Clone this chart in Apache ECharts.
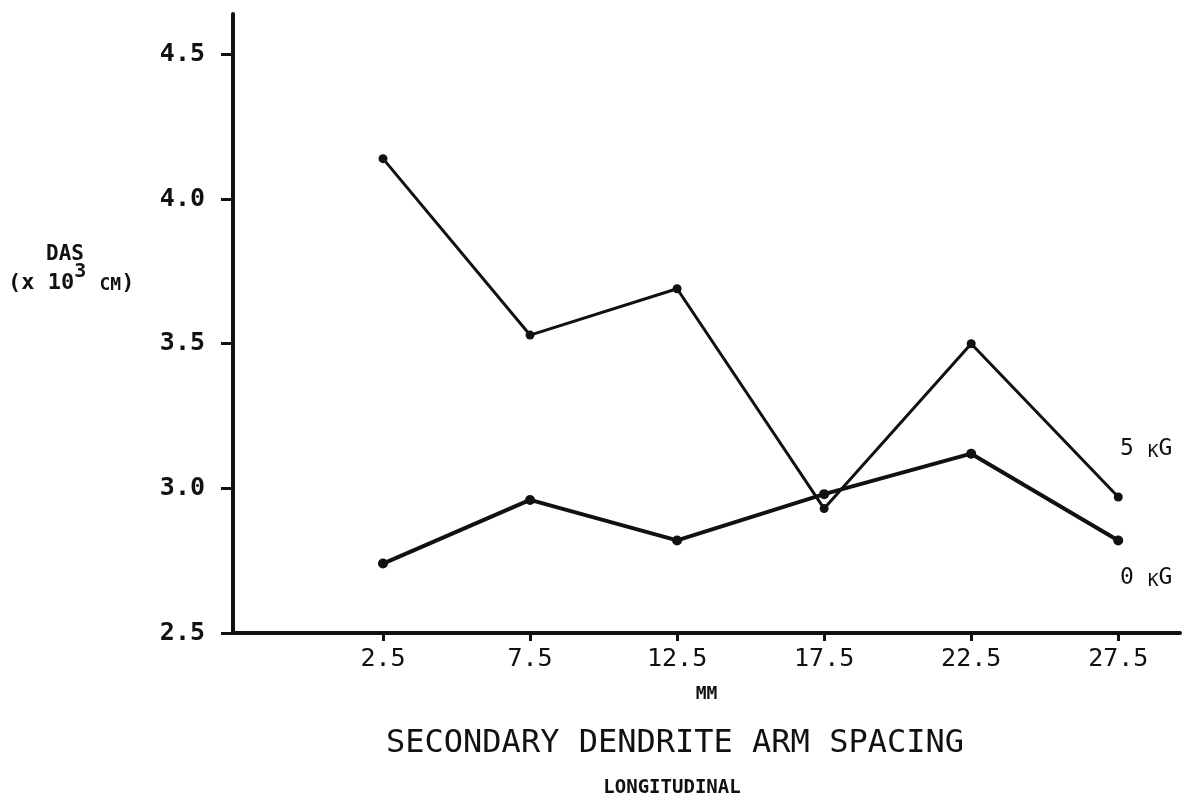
<!DOCTYPE html>
<html>
<head>
<meta charset="utf-8">
<script src="https://cdn.jsdelivr.net/npm/echarts@6/dist/echarts.min.js"></script>
<style>
  html, body { margin: 0; padding: 0; background: #fff; }
  #chart { width: 1188px; height: 800px; }
</style>
</head>
<body>
<div id="chart"></div>
<script>
// Distance along the casting (mm)
const positions = [2.5, 7.5, 12.5, 17.5, 22.5, 27.5];
// Secondary dendrite arm spacing (x 10^3 cm)
const das5kG = [4.14, 3.53, 3.69, 2.93, 3.50, 2.97];
const das0kG = [2.74, 2.96, 2.82, 2.98, 3.12, 2.82];
const yTicks = [2.5, 3.0, 3.5, 4.0, 4.5];

const FONT = '"DejaVu Sans Mono", monospace';
const INK = '#111';

const pairs = (xs, ys) => xs.map((x, i) => [x, ys[i]]);

const chart = echarts.init(document.getElementById('chart'), null, { renderer: 'canvas' });

chart.setOption({
  backgroundColor: '#ffffff',
  animation: false,
  grid: { left: 233, right: 8, top: 14, bottom: 167 },
  xAxis: {
    type: 'value',
    min: -2.6,
    max: 29.6,
    name: 'MM',
    nameLocation: 'middle',
    nameGap: 52,
    nameTextStyle: { fontFamily: FONT, fontSize: 18, color: INK, fontWeight: 'bold' },
    axisLine: { show: true, onZero: false, lineStyle: { color: INK, width: 4 } },
    axisTick: { show: true, customValues: positions, length: 8, lineStyle: { color: INK, width: 3 } },
    axisLabel: {
      customValues: positions,
      margin: 14,
      fontFamily: FONT, fontSize: 25, color: INK,
      formatter: v => v.toFixed(1)
    },
    splitLine: { show: false }
  },
  yAxis: {
    type: 'value',
    min: 2.5,
    max: 4.64,
    interval: 0.5,
    axisLine: { show: true, onZero: false, lineStyle: { color: INK, width: 4 } },
    axisTick: { show: true, customValues: yTicks, length: 12, lineStyle: { color: INK, width: 3 } },
    axisLabel: {
      customValues: yTicks,
      margin: 28,
      fontFamily: FONT, fontSize: 25, color: INK, fontWeight: 'bold',
      formatter: v => v.toFixed(1)
    },
    splitLine: { show: false }
  },
  series: [
    {
      name: '5 kG',
      type: 'line',
      data: pairs(positions, das5kG),
      symbol: 'circle',
      symbolSize: 9,
      lineStyle: { color: INK, width: 3 },
      itemStyle: { color: INK }
    },
    {
      name: '0 kG',
      type: 'line',
      data: pairs(positions, das0kG),
      symbol: 'circle',
      symbolSize: 10,
      lineStyle: { color: INK, width: 4 },
      itemStyle: { color: INK }
    }
  ],
  graphic: [
    {
      type: 'text', left: 46, top: 244,
      style: { text: 'DAS', font: 'bold 21px ' + FONT, fill: INK }
    },
    {
      type: 'text', left: 8, top: 262,
      style: {
        text: '{p|(x 10}{s|3}{p| }{c|CM}{p|)}',
        fill: INK,
        rich: {
          p: { fontFamily: FONT, fontSize: 22, fontWeight: 'bold', fill: INK, verticalAlign: 'bottom' },
          s: { fontFamily: FONT, fontSize: 20, fontWeight: 'bold', fill: INK, verticalAlign: 'top', padding: [0, 0, 12, 0] },
          c: { fontFamily: FONT, fontSize: 18, fontWeight: 'bold', fill: INK, verticalAlign: 'bottom' }
        }
      }
    },
    {
      type: 'text', left: 1120, top: 438,
      style: {
        text: '{n|5 }{k|K}{n|G}',
        rich: {
          n: { fontFamily: FONT, fontSize: 23, fill: INK, verticalAlign: 'bottom' },
          k: { fontFamily: FONT, fontSize: 18, fill: INK, verticalAlign: 'bottom' }
        }
      }
    },
    {
      type: 'text', left: 1120, top: 567,
      style: {
        text: '{n|0 }{k|K}{n|G}',
        rich: {
          n: { fontFamily: FONT, fontSize: 23, fill: INK, verticalAlign: 'bottom' },
          k: { fontFamily: FONT, fontSize: 18, fill: INK, verticalAlign: 'bottom' }
        }
      }
    },
    {
      type: 'text', x: 675, y: 744,
      style: {
        text: 'SECONDARY DENDRITE ARM SPACING',
        font: '32px ' + FONT, fill: INK,
        align: 'center', verticalAlign: 'middle'
      }
    },
    {
      type: 'text', x: 672, y: 788,
      style: {
        text: 'LONGITUDINAL',
        font: 'bold 19px ' + FONT, fill: INK,
        align: 'center', verticalAlign: 'middle'
      }
    }
  ]
});
</script>
</body>
</html>
